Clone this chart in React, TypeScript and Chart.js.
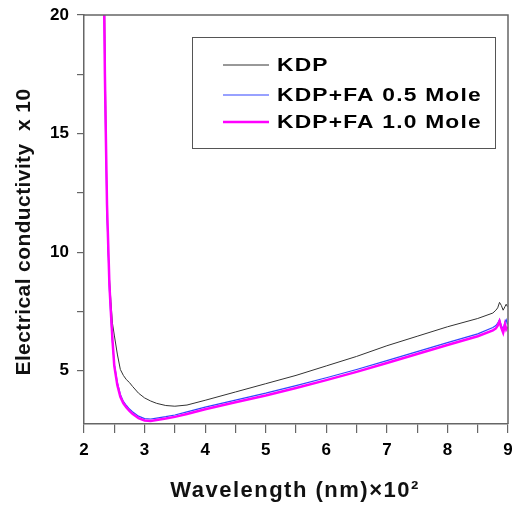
import React, { useEffect, useRef } from 'react';
import { Chart, registerables } from 'chart.js';

Chart.register(...registerables);

// Wavelength (nm) x 10^2
const wavelength = [
  2.33, 2.345, 2.36, 2.38, 2.40, 2.42, 2.445, 2.47, 2.50, 2.55, 2.60, 2.65, 2.70, 2.75, 2.80,
  2.90, 3.00, 3.10, 3.20, 3.35, 3.50, 3.70, 4.00, 4.50, 5.00, 5.50, 6.00, 6.50, 7.00, 7.50,
  8.00, 8.50, 8.75, 8.80, 8.83, 8.86, 8.89, 8.92, 8.95, 8.97, 8.99,
];

// Electrical conductivity x 10
const kdp = [
  23, 19, 15.8, 11.8, 10.0, 8.9, 7.9, 7.0, 6.5, 5.7, 5.05, 4.8, 4.62, 4.5, 4.34,
  4.05, 3.85, 3.72, 3.62, 3.53, 3.5, 3.55, 3.75, 4.1, 4.45, 4.8, 5.2, 5.6, 6.05, 6.45,
  6.85, 7.2, 7.43, 7.55, 7.65, 7.88, 7.75, 7.55, 7.7, 7.8, 7.7,
];

const kdpFa05 = [
  21, 17, 14.5, 11.6, 10.0, 8.4, 7.2, 6.2, 5.3, 4.5, 4.0, 3.7, 3.53, 3.38, 3.27,
  3.08, 2.98, 2.96, 3.0, 3.06, 3.13, 3.26, 3.46, 3.76, 4.05, 4.37, 4.7, 5.05, 5.42, 5.8,
  6.18, 6.55, 6.82, 6.9, 7.0, 7.15, 6.9, 6.75, 7.05, 7.15, 6.95,
];

const kdpFa10 = [
  21, 17.5, 15, 12, 10.3, 8.6, 7.4, 6.3, 5.2, 4.4, 3.9, 3.62, 3.45, 3.3, 3.18,
  3.0, 2.9, 2.88, 2.92, 2.98, 3.05, 3.17, 3.37, 3.67, 3.95, 4.27, 4.6, 4.95, 5.32, 5.7,
  6.08, 6.45, 6.7, 6.78, 6.9, 7.08, 6.8, 6.6, 6.95, 6.75, 6.85,
];

const seriesNames = ['KDP', 'KDP+FA 0.5 Mole', 'KDP+FA 1.0 Mole'];
const seriesColors = ['#333333', '#3344ff', '#ff00ff'];
const seriesWidths = [1, 1.2, 2.5];

const xTickLabels = [2, 3, 4, 5, 6, 7, 8, 9];
const yTickLabels = [5, 10, 15, 20];

const xTitle = 'Wavelength (nm)×10²';
const yTitle = 'Electrical conductivity  x 10';

const FONT = '"Liberation Sans", Arial, sans-serif';

const framePlugin = {
  id: 'frameAndLegend',
  afterDraw(chart: any) {
    const { ctx, chartArea } = chart;
    const { left, top, right, bottom } = chartArea;
    ctx.save();
    ctx.strokeStyle = '#666666';
    ctx.lineWidth = 1.5;
    ctx.beginPath();
    ctx.moveTo(left, top);
    ctx.lineTo(right, top);
    ctx.lineTo(right, bottom);
    ctx.stroke();

    // legend box
    ctx.lineWidth = 1;
    ctx.strokeStyle = '#555555';
    ctx.strokeRect(192.5, 37.5, 303, 111);
    const rows = [65, 95, 122];
    ctx.textBaseline = 'middle';
    ctx.fillStyle = '#000';
    rows.forEach((y, i) => {
      ctx.strokeStyle = seriesColors[i];
      ctx.lineWidth = seriesWidths[i];
      ctx.beginPath();
      ctx.moveTo(223, y);
      ctx.lineTo(269, y);
      ctx.stroke();
      ctx.save();
      ctx.translate(277, y + 1);
      ctx.scale(1.2, 1);
      ctx.font = `bold 19px ${FONT}`;
      (ctx as any).letterSpacing = '1px';
      ctx.textAlign = 'left';
      ctx.fillText(seriesNames[i], 0, 0);
      ctx.restore();
    });

    // axis titles
    ctx.fillStyle = '#111';
    ctx.textAlign = 'center';
    ctx.textBaseline = 'middle';
    ctx.save();
    ctx.font = `bold 22px ${FONT}`;
    (ctx as any).letterSpacing = '1.5px';
    ctx.fillText(xTitle, 295, 491);
    ctx.restore();

    ctx.save();
    ctx.translate(24, 232);
    ctx.rotate(-Math.PI / 2);
    ctx.font = `bold 21px ${FONT}`;
    (ctx as any).letterSpacing = '0.4px';
    ctx.fillText(yTitle, 0, 0);
    ctx.restore();

    ctx.restore();
  },
};

export default function App() {
  const canvasRef = useRef<HTMLCanvasElement | null>(null);

  useEffect(() => {
    if (!canvasRef.current) return;
    const series = [kdp, kdpFa05, kdpFa10];
    const chart = new Chart(canvasRef.current, {
      type: 'line',
      data: {
        datasets: series.map((ys, i) => ({
          label: seriesNames[i],
          data: wavelength.map((x, j) => ({ x, y: ys[j] })),
          borderColor: seriesColors[i],
          borderWidth: seriesWidths[i],
          pointRadius: 0,
          tension: 0,
          fill: false,
          order: 2 - i,
        })),
      },
      options: {
        animation: false,
        responsive: false,
        devicePixelRatio: 1,
        layout: { padding: { top: 15, right: 4, left: 0, bottom: 0 } },
        plugins: {
          legend: { display: false },
          tooltip: { enabled: false },
        },
        scales: {
          x: {
            type: 'linear',
            min: 2,
            max: 9,
            afterFit: (scale: any) => {
              scale.height = 84;
              scale.paddingLeft = 0;
              scale.paddingRight = 0;
            },
            afterBuildTicks: (scale: any) => {
              scale.ticks = scale.ticks.filter(
                (t: any) => Math.abs(t.value * 2 - Math.round(t.value * 2)) < 1e-6,
              );
            },
            ticks: {
              stepSize: 0.5,
              autoSkip: false,
              maxRotation: 0,
              padding: 7,
              color: '#000',
              font: { family: FONT, size: 17, weight: 'bold' },
              callback: (v: any) => (xTickLabels.some((t) => Math.abs(t - v) < 1e-6) ? String(v) : ''),
            },
            grid: {
              drawOnChartArea: false,
              drawTicks: true,
              tickLength: 9,
              color: '#666666',
              lineWidth: 1.2,
            },
            border: { display: true, color: '#666666', width: 1.5 },
            title: { display: false },
          },
          y: {
            type: 'linear',
            min: 2.75,
            max: 20,
            afterFit: (scale: any) => {
              scale.width = 84;
              scale.paddingTop = 0;
              scale.paddingBottom = 0;
            },
            afterBuildTicks: (scale: any) => {
              scale.ticks = scale.ticks.filter(
                (t: any) => Math.abs(t.value / 2.5 - Math.round(t.value / 2.5)) < 1e-6,
              );
            },
            ticks: {
              stepSize: 2.5,
              autoSkip: false,
              padding: 8,
              color: '#000',
              font: { family: FONT, size: 17, weight: 'bold' },
              callback: (v: any) => (yTickLabels.some((t) => Math.abs(t - v) < 1e-6) ? String(v) : ''),
            },
            grid: {
              drawOnChartArea: false,
              drawTicks: true,
              tickLength: 7,
              color: '#666666',
              lineWidth: 1.2,
            },
            border: { display: true, color: '#666666', width: 1.5 },
            title: { display: false },
          },
        },
      },
      plugins: [framePlugin],
    });
    return () => chart.destroy();
  }, []);

  return (
    <div style={{ position: 'fixed', left: 0, top: 0, width: 512, height: 508, background: '#fff' }}>
      <canvas ref={canvasRef} width={512} height={508} style={{ display: 'block' }} />
    </div>
  );
}
